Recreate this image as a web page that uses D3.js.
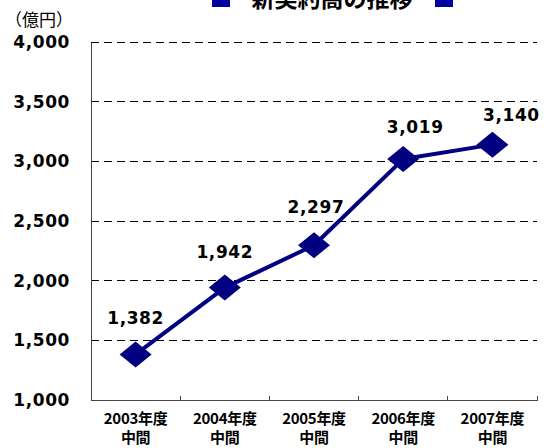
<!DOCTYPE html>
<html><head><meta charset="utf-8">
<script src="https://cdn.jsdelivr.net/npm/d3@7"></script>
<style>
html,body{margin:0;padding:0;background:#fff;}
svg{display:block;}
</style></head>
<body>
<script>
const categories = ["2003年度\n中間","2004年度\n中間","2005年度\n中間","2006年度\n中間","2007年度\n中間"];
const values = [1382, 1942, 2297, 3019, 3140];
const yTicks = [1000, 1500, 2000, 2500, 3000, 3500, 4000];
const title = "新契約高の推移";
const unitLabel = "（億円）";

const W = 547, H = 448;
const navy = "#000080";
const svg = d3.select("body").append("svg").attr("width", W).attr("height", H);

const x = d3.scaleBand().domain(categories).range([91, 537]).padding(0);
const y = d3.scaleLinear().domain([1000, 4000]).range([400, 42]);

// title (partly cut off at the top, as in the original)
const tg = svg.append("g");
tg.append("text").attr("x", 332).attr("y", 7).attr("text-anchor", "middle")
  .attr("font-family", "'Noto Sans CJK JP'").attr("font-weight", "bold").attr("font-size", 23)
  .attr("fill", "#000").text(title);
tg.append("rect").attr("x", 212).attr("y", -11).attr("width", 18).attr("height", 18).attr("fill", "#0000a0");
tg.append("rect").attr("x", 435).attr("y", -11).attr("width", 18).attr("height", 18).attr("fill", "#0000a0");

// unit label
svg.append("text").attr("x", 5).attr("y", 26)
  .attr("font-family", "'Noto Sans CJK JP'").attr("font-size", 17).attr("fill", "#000").text(unitLabel);

// gridlines
svg.append("g").selectAll("line").data(yTicks.filter(d => d > 1000)).join("line")
  .attr("x1", 91).attr("x2", 537).attr("y1", d => y(d)).attr("y2", d => y(d))
  .attr("stroke", "#000").attr("stroke-width", 1).attr("stroke-dasharray", "8,5")
  .attr("shape-rendering", "crispEdges");

// y axis
const yAxis = svg.append("g").attr("transform", "translate(91,0)")
  .call(d3.axisLeft(y).tickValues(yTicks).tickSize(0).tickPadding(21).tickFormat(d3.format(",")));
yAxis.select(".domain").attr("stroke", "#444").attr("shape-rendering", "crispEdges");
yAxis.selectAll("text").attr("font-family", "'DejaVu Sans'").attr("font-weight", "bold")
  .attr("font-size", 17).attr("letter-spacing", "0.6px").attr("fill", "#000");

// x axis
const xAxis = svg.append("g").attr("transform", "translate(0,400)")
  .call(d3.axisBottom(x).tickSize(0).tickFormat(""));
xAxis.select(".domain").attr("stroke", "#444").attr("shape-rendering", "crispEdges");
// category boundary ticks (inward)
svg.append("g").selectAll("line").data(categories).join("line")
  .attr("x1", d => x(d) + x.bandwidth()).attr("x2", d => x(d) + x.bandwidth())
  .attr("y1", 400).attr("y2", 396).attr("stroke", "#444").attr("shape-rendering", "crispEdges");
// category labels
const cl = svg.append("g").selectAll("text").data(categories).join("text")
  .attr("x", d => x(d) + x.bandwidth() / 2).attr("y", 424).attr("text-anchor", "middle")
  .attr("font-family", "'Noto Sans CJK JP'").attr("font-weight", "bold").attr("font-size", 15)
  .attr("letter-spacing", "-0.3px").attr("fill", "#000");
cl.selectAll("tspan").data(d => d.split("\n").map(t => ({t, c: d}))).join("tspan")
  .attr("x", d => x(d.c) + x.bandwidth() / 2).attr("dy", (d, i) => i ? 19 : 0).text(d => d.t);

// line
const cx = (d, i) => x(categories[i]) + x.bandwidth() / 2;
svg.append("path").datum(values)
  .attr("d", d3.line().x(cx).y(d => y(d)))
  .attr("fill", "none").attr("stroke", navy).attr("stroke-width", 4).attr("stroke-linejoin", "round");

// diamond markers
svg.append("g").selectAll("path").data(values).join("path")
  .attr("transform", (d, i) => `translate(${cx(d, i)},${y(d)})`)
  .attr("d", "M0,-13L16,0L0,13L-16,0Z").attr("fill", navy);

// value labels
const labelDx = [0, 0, 2, 12, 19];
const labelDy = [-36, -36, -38, -32, -30];
svg.append("g").selectAll("text").data(values).join("text")
  .attr("x", (d, i) => cx(d, i) + labelDx[i]).attr("y", (d, i) => y(d) + labelDy[i])
  .attr("dy", "0.35em").attr("text-anchor", "middle")
  .attr("font-family", "'DejaVu Sans'").attr("font-weight", "bold").attr("font-size", 17)
  .attr("letter-spacing", "0.6px").attr("fill", "#000").text(d => d3.format(",")(d));
</script>
</body></html>
